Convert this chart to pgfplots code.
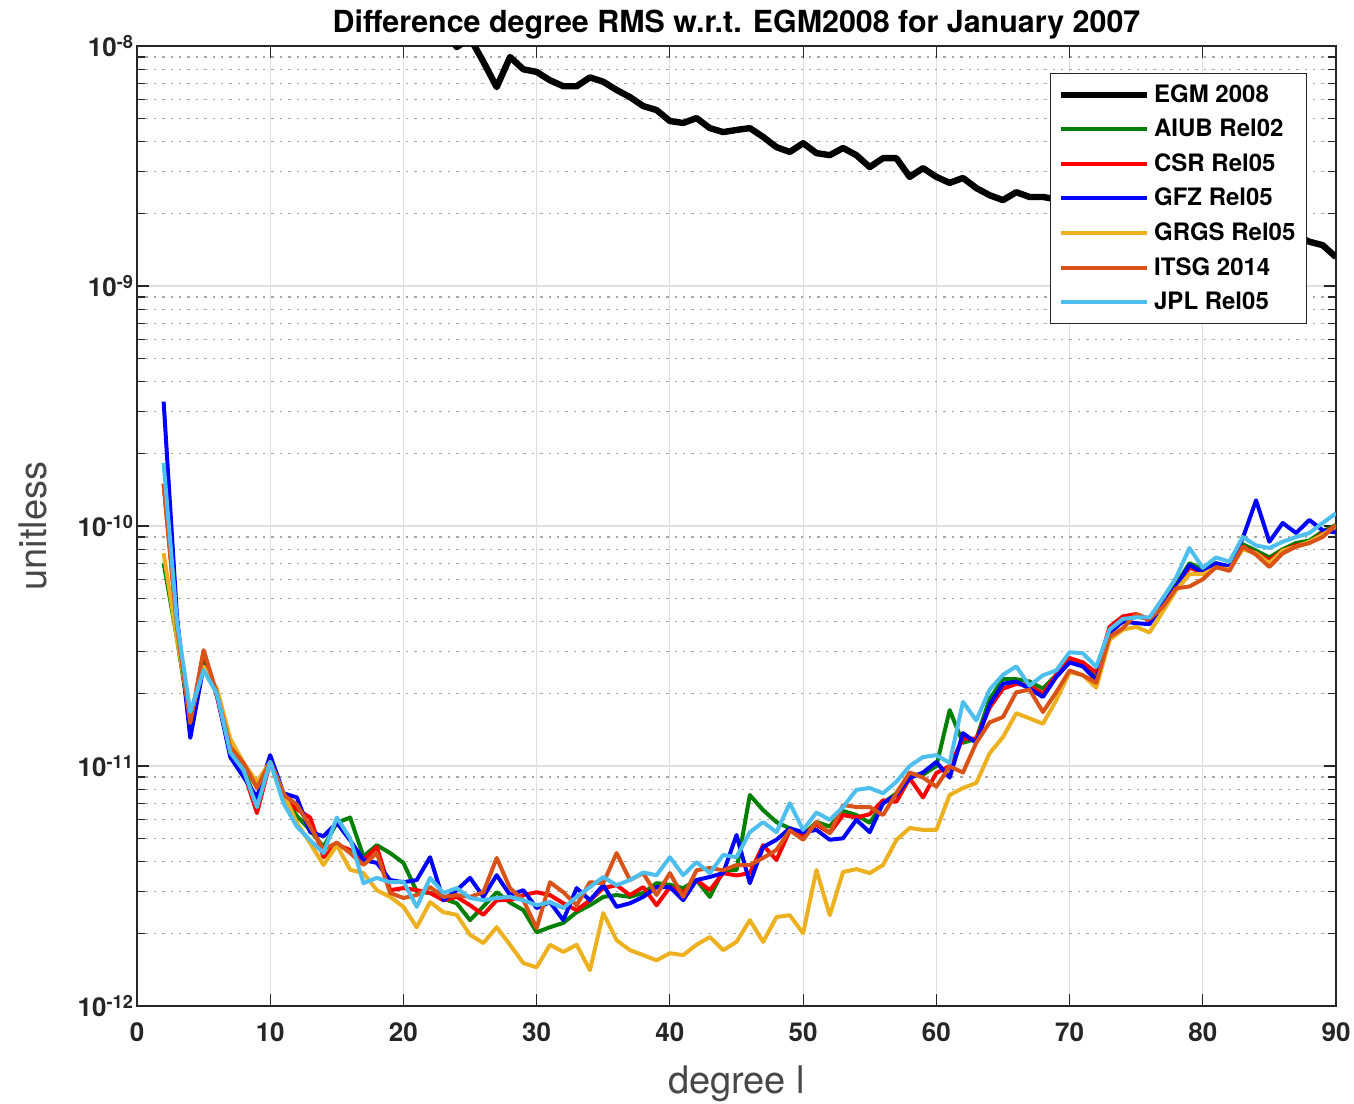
\documentclass[border=0pt]{standalone}
\usepackage{fontspec}
\setmainfont{TeX Gyre Heros}
\usepackage{pgfplots}
\usepackage{pgfplotstable}
\pgfplotsset{compat=1.18}
\definecolor{cAIUB}{rgb}{0,0.5,0}
\definecolor{cCSR}{rgb}{1,0,0}
\definecolor{cGFZ}{rgb}{0,0,1}
\definecolor{cGRGS}{rgb}{0.929,0.694,0.125}
\definecolor{cITSG}{rgb}{0.850,0.325,0.098}
\definecolor{cJPL}{rgb}{0.301,0.745,0.933}
\definecolor{axgray}{rgb}{0.15,0.15,0.15}

\pgfplotstableread{
deg v
22 1.5e-8
23 1.2e-8
24 9.9e-9
25 1.08e-8
26 8.6e-9
27 6.74e-9
28 9.0e-9
29 8.0e-9
30 7.8e-9
31 7.2e-9
32 6.8e-9
33 6.8e-9
34 7.4e-9
35 7.1e-9
36 6.56e-9
37 6.13e-9
38 5.62e-9
39 5.41e-9
40 4.87e-9
41 4.78e-9
42 5.01e-9
43 4.55e-9
44 4.38e-9
45 4.47e-9
46 4.55e-9
47 4.18e-9
48 3.79e-9
49 3.62e-9
50 3.94e-9
51 3.58e-9
52 3.51e-9
53 3.76e-9
54 3.51e-9
55 3.13e-9
56 3.41e-9
57 3.41e-9
58 2.85e-9
59 3.10e-9
60 2.85e-9
61 2.69e-9
62 2.82e-9
63 2.56e-9
64 2.39e-9
65 2.28e-9
66 2.46e-9
67 2.35e-9
68 2.35e-9
69 2.30e-9
70 2.38e-9
71 2.25e-9
72 2.20e-9
73 2.18e-9
74 2.10e-9
75 2.12e-9
76 2.02e-9
77 1.98e-9
78 2.00e-9
79 1.92e-9
80 1.88e-9
81 1.85e-9
82 1.82e-9
83 1.78e-9
84 1.75e-9
85 1.72e-9
86 1.68e-9
87 1.62e-9
88 1.53e-9
89 1.48e-9
90 1.32e-9
}\egm

\pgfplotstableread{
deg aiub csr gfz grgs itsg jpl
2 7.0e-11 1.5e-10 3.3e-10 7.7e-11 1.5e-10 1.83e-10
3 3.4e-11 3.8e-11 4.2e-11 3.4e-11 3.8e-11 4.0e-11
4 1.5e-11 1.5e-11 1.31e-11 1.6e-11 1.51e-11 1.68e-11
5 2.8e-11 3.0e-11 2.6e-11 2.6e-11 3.04e-11 2.51e-11
6 2.0e-11 1.95e-11 2.0e-11 2.1e-11 2.0e-11 2.0e-11
7 1.15e-11 1.12e-11 1.09e-11 1.3e-11 1.2e-11 1.14e-11
8 9.8e-12 9.5e-12 9.0e-12 1.03e-11 1.03e-11 9.6e-12
9 7.0e-12 6.37e-12 7.4e-12 8.6e-12 8.1e-12 6.75e-12
10 1.04e-11 1.04e-11 1.11e-11 1.04e-11 1.04e-11 1.04e-11
11 7.4e-12 7.4e-12 7.7e-12 7.7e-12 7.6e-12 7.0e-12
12 6.2e-12 6.6e-12 7.4e-12 5.8e-12 6.9e-12 5.6e-12
13 5.4e-12 6.1e-12 5.3e-12 4.77e-12 5.6e-12 4.9e-12
14 4.6e-12 4.17e-12 5.1e-12 3.87e-12 4.47e-12 4.34e-12
15 5.8e-12 4.7e-12 5.8e-12 4.68e-12 4.8e-12 6.1e-12
16 6.1e-12 4.47e-12 4.9e-12 3.7e-12 4.34e-12 5.0e-12
17 4.2e-12 4.06e-12 4.06e-12 3.58e-12 3.87e-12 3.25e-12
18 4.68e-12 4.6e-12 3.95e-12 3.04e-12 4.34e-12 3.42e-12
19 4.34e-12 3.04e-12 3.35e-12 2.85e-12 2.96e-12 3.28e-12
20 3.95e-12 3.1e-12 3.28e-12 2.59e-12 2.82e-12 3.3e-12
21 3.0e-12 3.04e-12 3.35e-12 2.13e-12 2.9e-12 2.59e-12
22 2.96e-12 2.96e-12 4.17e-12 2.71e-12 3.13e-12 3.42e-12
23 2.8e-12 2.76e-12 2.76e-12 2.46e-12 2.85e-12 2.96e-12
24 2.68e-12 2.85e-12 3.04e-12 2.4e-12 2.9e-12 3.1e-12
25 2.28e-12 2.63e-12 3.42e-12 1.98e-12 2.85e-12 2.82e-12
26 2.6e-12 2.4e-12 2.85e-12 1.83e-12 2.98e-12 2.76e-12
27 2.98e-12 2.76e-12 3.51e-12 2.13e-12 4.14e-12 2.82e-12
28 2.7e-12 2.76e-12 2.9e-12 1.8e-12 3.1e-12 2.85e-12
29 2.51e-12 2.9e-12 3.04e-12 1.51e-12 2.76e-12 2.76e-12
30 2.03e-12 2.98e-12 2.56e-12 1.45e-12 2.11e-12 2.63e-12
31 2.13e-12 2.9e-12 2.71e-12 1.8e-12 3.28e-12 2.71e-12
32 2.22e-12 2.68e-12 2.28e-12 1.68e-12 2.98e-12 2.56e-12
33 2.46e-12 2.51e-12 3.1e-12 1.8e-12 2.63e-12 2.85e-12
34 2.63e-12 2.76e-12 2.76e-12 1.41e-12 3.28e-12 3.13e-12
35 2.85e-12 3.1e-12 3.19e-12 2.44e-12 3.25e-12 3.45e-12
36 2.9e-12 3.19e-12 2.59e-12 1.88e-12 4.34e-12 3.19e-12
37 2.85e-12 2.9e-12 2.68e-12 1.71e-12 3.35e-12 3.35e-12
38 2.96e-12 3.13e-12 2.85e-12 1.63e-12 3.58e-12 3.6e-12
39 3.25e-12 2.63e-12 3.13e-12 1.55e-12 2.9e-12 3.51e-12
40 3.2e-12 3.13e-12 3.13e-12 1.66e-12 3.58e-12 4.17e-12
41 3.1e-12 2.98e-12 2.76e-12 1.63e-12 2.85e-12 3.51e-12
42 3.35e-12 3.35e-12 3.35e-12 1.8e-12 3.68e-12 3.98e-12
43 2.85e-12 3.04e-12 3.45e-12 1.94e-12 3.76e-12 3.58e-12
44 3.68e-12 3.58e-12 3.58e-12 1.71e-12 3.68e-12 4.26e-12
45 3.68e-12 3.5e-12 5.16e-12 1.85e-12 3.87e-12 4.17e-12
46 7.57e-12 3.58e-12 3.25e-12 2.28e-12 3.87e-12 5.3e-12
47 6.55e-12 4.68e-12 4.6e-12 1.85e-12 4.14e-12 5.84e-12
48 5.84e-12 4.06e-12 4.93e-12 2.35e-12 4.47e-12 5.3e-12
49 5.5e-12 5.4e-12 5.5e-12 2.39e-12 5.4e-12 7.0e-12
50 5.16e-12 5.16e-12 5.3e-12 2.01e-12 4.93e-12 5.42e-12
51 5.84e-12 5.7e-12 5.42e-12 3.69e-12 5.84e-12 6.4e-12
52 5.6e-12 5.26e-12 4.93e-12 2.39e-12 5.26e-12 5.97e-12
53 6.5e-12 6.25e-12 5.0e-12 3.62e-12 6.88e-12 6.75e-12
54 6.25e-12 6.1e-12 5.97e-12 3.72e-12 6.75e-12 7.96e-12
55 5.8e-12 6.3e-12 5.3e-12 3.58e-12 6.75e-12 8.1e-12
56 7.0e-12 7.2e-12 7.0e-12 3.87e-12 6.25e-12 7.7e-12
57 7.7e-12 7.1e-12 7.57e-12 4.92e-12 7.7e-12 8.6e-12
58 9.2e-12 8.9e-12 8.9e-12 5.52e-12 9.4e-12 1.0e-11
59 9.2e-12 7.4e-12 9.4e-12 5.42e-12 8.95e-12 1.09e-11
60 1.0e-11 9.35e-12 1.04e-11 5.42e-12 8.2e-12 1.11e-11
61 1.71e-11 1.0e-11 8.95e-12 7.57e-12 9.96e-12 1.03e-11
62 1.25e-11 1.3e-11 1.37e-11 8.1e-12 9.4e-12 1.85e-11
63 1.3e-11 1.3e-11 1.25e-11 8.5e-12 1.25e-11 1.55e-11
64 1.9e-11 1.75e-11 1.8e-11 1.13e-11 1.52e-11 2.08e-11
65 2.3e-11 2.1e-11 2.2e-11 1.32e-11 1.6e-11 2.4e-11
66 2.3e-11 2.2e-11 2.25e-11 1.66e-11 2.03e-11 2.6e-11
67 2.25e-11 2.16e-11 2.1e-11 1.58e-11 2.08e-11 2.16e-11
68 2.1e-11 2.0e-11 1.94e-11 1.5e-11 1.68e-11 2.39e-11
69 2.4e-11 2.4e-11 2.35e-11 1.88e-11 2.03e-11 2.5e-11
70 2.8e-11 2.82e-11 2.7e-11 2.46e-11 2.5e-11 2.98e-11
71 2.7e-11 2.7e-11 2.6e-11 2.39e-11 2.39e-11 2.95e-11
72 2.4e-11 2.45e-11 2.28e-11 2.12e-11 2.22e-11 2.59e-11
73 3.6e-11 3.8e-11 3.6e-11 3.35e-11 3.45e-11 3.7e-11
74 4.0e-11 4.2e-11 4.0e-11 3.7e-11 3.75e-11 4.1e-11
75 4.2e-11 4.3e-11 3.94e-11 3.8e-11 4.3e-11 4.16e-11
76 4.1e-11 4.05e-11 3.9e-11 3.6e-11 4.1e-11 4.16e-11
77 4.7e-11 4.7e-11 4.7e-11 4.4e-11 4.6e-11 5.0e-11
78 5.7e-11 5.6e-11 5.6e-11 5.4e-11 5.5e-11 6.1e-11
79 7.0e-11 6.7e-11 6.9e-11 6.3e-11 5.6e-11 8.1e-11
80 6.6e-11 6.4e-11 6.4e-11 6.3e-11 6.0e-11 6.7e-11
81 7.0e-11 6.9e-11 7.0e-11 6.7e-11 6.75e-11 7.4e-11
82 6.7e-11 6.6e-11 6.8e-11 6.6e-11 6.5e-11 7.1e-11
83 8.4e-11 8.2e-11 8.9e-11 8.0e-11 8.2e-11 9.0e-11
84 7.9e-11 7.7e-11 1.28e-10 7.7e-11 7.6e-11 8.3e-11
85 7.4e-11 7.2e-11 8.6e-11 7.0e-11 6.75e-11 8.1e-11
86 8.0e-11 7.9e-11 1.03e-10 7.9e-11 7.7e-11 8.6e-11
87 8.5e-11 8.3e-11 9.35e-11 8.2e-11 8.2e-11 9.0e-11
88 8.7e-11 8.5e-11 1.06e-10 8.6e-11 8.5e-11 9.35e-11
89 9.5e-11 9.35e-11 9.6e-11 9.2e-11 9.0e-11 1.03e-10
90 1.01e-10 1.0e-10 9.4e-11 1.0e-10 1.01e-10 1.13e-10
}\sols

\begin{document}
\begin{tikzpicture}
\useasboundingbox (-68.5pt,-48.5pt) rectangle (608.5pt,503pt);
\begin{axis}[
  scale only axis, width=599.5pt, height=480pt,
  ymode=log, xmin=0, xmax=90, ymin=1e-12, ymax=1e-8,
  xtick={0,10,...,90},
  ytick={1e-12,1e-11,1e-10,1e-9,1e-8},
  yticklabels={10\textsuperscript{-12},10\textsuperscript{-11},10\textsuperscript{-10},10\textsuperscript{-9},10\textsuperscript{-8}},
  /pgf/number format/assume math mode=true,
  ticklabel style={font=\fontsize{13}{15}\selectfont\bfseries, text=axgray},
  xticklabel style={yshift=-5pt},
  yticklabel style={xshift=2pt},
  tick align=inside, tick pos=both,
  major tick length=6pt, minor tick length=4pt,
  every tick/.style={axgray, line width=0.6pt},
  axis line style={axgray, line width=0.8pt},
  grid=both,
  major grid style={line width=0.6pt, color=black!12},
  minor grid style={line width=0.6pt, color=black!35, dash pattern=on 1.2pt off 3pt},
  title={Difference degree RMS w.r.t. EGM2008 for January 2007},
  every axis title/.style={at={(axis description cs:0.5,1.0146)}, anchor=base, font=\fontsize{15.2}{18}\selectfont\bfseries},
  xlabel={degree l},
  ylabel={unitless},
  xlabel style={at={(axis description cs:0.5,-0.0906)}, anchor=base, font=\fontsize{19}{22}\selectfont, text=black!72},
  ylabel style={at={(axis description cs:-0.0751,0.5)}, anchor=base, font=\fontsize{19}{22}\selectfont, text=black!72},
  legend style={at={(axis description cs:0.7615,0.972)}, anchor=north west,
    draw=axgray, line width=0.7pt, fill=white,
    font=\fontsize{12}{14}\selectfont\bfseries,
    inner xsep=3.5pt, inner ysep=3.5pt, row sep=2.9pt},
  legend cell align=left,
  legend image code/.code={\draw[#1] (0pt,0pt) -- (43pt,0pt);},
  no markers,
  every axis plot/.append style={line join=round},
]
\addplot[black, line width=3.2pt] table[x=deg, y=v] {\egm};
\addplot[cAIUB, line width=2pt] table[x=deg, y=aiub] {\sols};
\addplot[cCSR, line width=2pt] table[x=deg, y=csr] {\sols};
\addplot[cGFZ, line width=2pt] table[x=deg, y=gfz] {\sols};
\addplot[cGRGS, line width=2pt] table[x=deg, y=grgs] {\sols};
\addplot[cITSG, line width=2pt] table[x=deg, y=itsg] {\sols};
\addplot[cJPL, line width=2pt] table[x=deg, y=jpl] {\sols};
\legend{EGM 2008, AIUB Rel02, CSR Rel05, GFZ Rel05, GRGS Rel05, ITSG 2014, JPL Rel05}
\end{axis}
\end{tikzpicture}
\end{document}
